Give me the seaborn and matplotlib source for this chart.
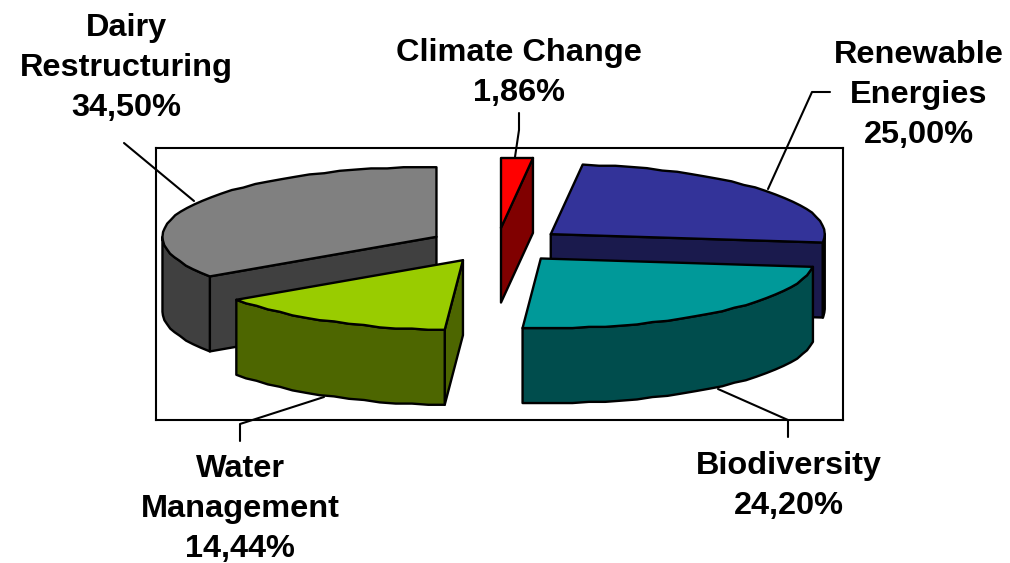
"""Exploded 3D style pie chart of funding shares."""
import numpy as np
import matplotlib
matplotlib.use("Agg")
import matplotlib.pyplot as plt
import seaborn as sns
from matplotlib.colors import to_rgb
from matplotlib.lines import Line2D
from matplotlib.patches import Polygon

# Data, clockwise from 12 o'clock
categories = ["Climate Change", "Renewable\nEnergies", "Biodiversity",
              "Water\nManagement", "Dairy\nRestructuring"]
shares = [1.86, 25.00, 24.20, 14.44, 34.50]
colors = ["#FF0000", "#333399", "#009999", "#99CC00", "#808080"]

# Back slices first, so the front ones cover them
draw_order = [1, 4, 0, 3, 2]

W, H = 1010, 563
CENTER = (497, 245)     # pie centre in pixels
RX, RY = 274, 70        # ellipse radii in pixels
DEPTH = 75 / RY         # height of the pie in y units
EXPLODE = 0.25
ARC_STEP = 3.5
SNAP = 1.2 / RY         # rim steps, the original edge is slightly jagged

# Label centres and leader lines in pixels, same order as categories
label_pos = [(519, 73), (919, 95), (789, 486), (240, 509), (126, 68)]
leaders = [
    [(519, 113), (519, 130), (515, 157)],
    [(830, 92), (812, 92), (768, 189)],
    [(788, 437), (788, 420), (718, 389)],
    [(240, 441), (240, 424), (324, 397)],
    [(124, 143), (194, 201)],
]


def px(x, y):
    return x / W, 1 - y / H


def rim(apex, a0, a1):
    """Points on the circle between two angles (degrees, clockwise from top)."""
    n = max(int(np.ceil((a1 - a0) / ARC_STEP)), 1)
    t = np.radians(np.linspace(a0, a1, n + 1))
    y = np.round(np.cos(t) / SNAP) * SNAP
    return np.column_stack([apex[0] + np.sin(t), apex[1] + y])


def face(ax, pts, color):
    ax.add_patch(Polygon(pts, closed=True, facecolor=color, edgecolor="black",
                         linewidth=1.7, joinstyle="round"))


def draw_slice(ax, a0, a1, color):
    mid = np.radians((a0 + a1) / 2)
    apex = np.array([EXPLODE * np.sin(mid), EXPLODE * np.cos(mid)])
    dark = tuple(c * 0.5 for c in to_rgb(color))
    down = np.array([0, -DEPTH])

    # Only the faces turned to the viewer
    for angle, visible in ((a0, np.sin(np.radians(a0)) < -1e-9),
                           (a1, np.sin(np.radians(a1)) > 1e-9)):
        if visible:
            edge = rim(apex, angle, angle)[0]
            face(ax, [apex, edge, edge + down, apex + down], dark)

    lo, hi = max(a0, 90), min(a1, 270)
    if lo < hi:
        arc = rim(apex, lo, hi)
        face(ax, np.vstack([arc, (arc + down)[::-1]]), dark)

    face(ax, np.vstack([apex, rim(apex, a0, a1)]), color)


sns.set_theme(style="white")
plt.rcParams["font.family"] = ["Liberation Sans", "DejaVu Sans"]

fig = plt.figure(figsize=(W / 100, H / 100), dpi=100, facecolor="white")
left, top = px(156, 148)
right, bottom = px(843, 420)
ax = fig.add_axes([left, bottom, right - left, top - bottom])
ax.set_xlim((156 - CENTER[0]) / RX, (843 - CENTER[0]) / RX)
ax.set_ylim((CENTER[1] - 420) / RY, (CENTER[1] - 148) / RY)
ax.set_xticks([])
ax.set_yticks([])
sns.despine(ax=ax, top=False, right=False, left=False, bottom=False)
for spine in ax.spines.values():
    spine.set_color("black")
    spine.set_linewidth(1.5)

edges = np.concatenate([[0], np.cumsum(shares)]) / sum(shares) * 360
for i in draw_order:
    draw_slice(ax, edges[i], edges[i + 1], colors[i])

for i, name in enumerate(categories):
    value = f"{shares[i]:.2f}".replace(".", ",") + "%"
    x, y = px(*label_pos[i])
    fig.text(x, y, f"{name}\n{value}", ha="center", va="center", fontsize=23.4,
             fontweight="bold", color="black", linespacing=1.42,
             transform=fig.transFigure)
    xs, ys = zip(*[px(*p) for p in leaders[i]])
    fig.add_artist(Line2D(xs, ys, color="black", linewidth=1.5,
                          transform=fig.transFigure))

fig.savefig("out.png", dpi=100)
plt.close(fig)
